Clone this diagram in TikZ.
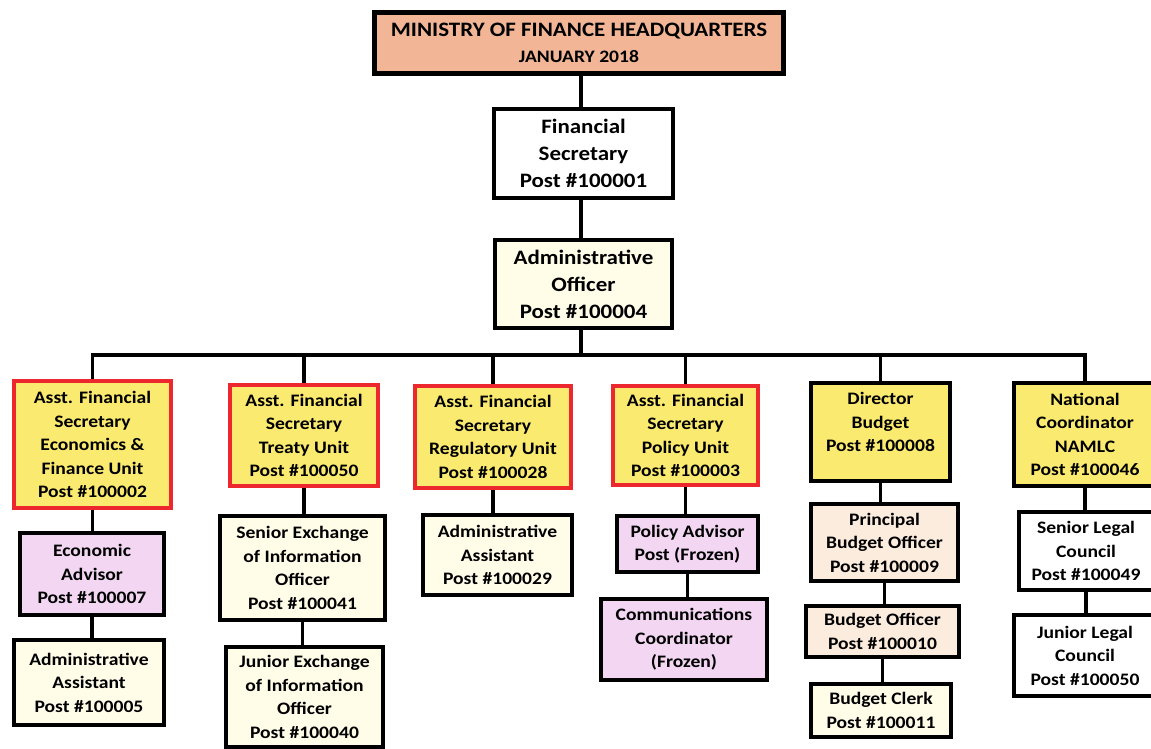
\documentclass[tikz,border=0pt]{standalone}
\usepackage{fontspec}
\newfontfamily\orgfont{Carlito}[FakeStretch=1.12]
\usepackage{tikz}
\usetikzlibrary{positioning, calc, backgrounds}
\usepackage{xcolor}
\definecolor{titlesalmon}{RGB}{242,182,150}
\definecolor{unityellow}{RGB}{251,234,112}
\definecolor{staffcream}{RGB}{255,253,232}
\definecolor{advisorpink}{RGB}{242,214,242}
\definecolor{budgetpeach}{RGB}{252,236,222}
\definecolor{unitred}{RGB}{236,40,46}
\tikzset{
  basebox/.style={
    rectangle, draw=black, line width=4pt, align=center, inner sep=2pt, text=black,
    font=\orgfont\bfseries\fontsize{17.5}{23.5}\selectfont
  },
  titlebox/.style={basebox, fill=titlesalmon, line width=5pt, font=\orgfont\bfseries\fontsize{20.5}{26}\selectfont},
  topbox/.style={basebox, font=\orgfont\bfseries\fontsize{20.5}{27}\selectfont},
  unitbox/.style={basebox, draw=unitred, fill=unityellow},
  headbox/.style={basebox, fill=unityellow},
  staffbox/.style={basebox, fill=staffcream},
  advisorbox/.style={basebox, fill=advisorpink},
  budgetbox/.style={basebox, fill=budgetpeach},
  legalbox/.style={basebox, fill=white},
  link/.style={line width=3.5pt, draw=black, line cap=rect}
}
\begin{document}
\begin{tikzpicture}[x=1pt, y=-1pt]
  \useasboundingbox (0,0) rectangle (1151,749);

  % top of the chart
  \node[titlebox, minimum width=409pt, minimum height=61pt] (title) at (579,43)
        {MINISTRY OF FINANCE HEADQUARTERS\\{\fontsize{17.5}{26}\selectfont JANUARY 2018}};
  \node[topbox, fill=white, minimum width=179pt, minimum height=89pt] (finsec) at (583.5,153.5)
        {Financial\\Secretary\\Post \#100001};
  \node[topbox, fill=staffcream, minimum width=177pt, minimum height=88pt] (adminoff) at (583.5,284)
        {Administrative\\Officer\\Post \#100004};
  \coordinate (bus) at (581,355);

  % units
  \node[unitbox, minimum width=157pt, minimum height=127pt] (econ) at (92.5,444.5)
        {Asst. Financial\\Secretary\\Economics \&\\Finance Unit\\Post \#100002};
  \node[unitbox, minimum width=148pt, minimum height=101pt] (treaty) at (304,435.5)
        {Asst. Financial\\Secretary\\Treaty Unit\\Post \#100050};
  \node[unitbox, minimum width=156pt, minimum height=102pt] (regul) at (493,437)
        {Asst. Financial\\Secretary\\Regulatory Unit\\Post \#100028};
  \node[unitbox, minimum width=145pt, minimum height=99pt] (policy) at (685.5,435.5)
        {Asst. Financial\\Secretary\\Policy Unit\\Post \#100003};
  \node[headbox, minimum width=139pt, minimum height=98pt, text depth=20pt] (dirbudget) at (880.5,432)
        {Director\\Budget\\Post \#100008};
  \node[headbox, minimum width=142pt, minimum height=103pt] (natcoord) at (1085,434.5)
        {National\\Coordinator\\NAMLC\\Post \#100046};

  % staff under the units
  \node[advisorbox, minimum width=144pt, minimum height=82pt] (econadv) at (92,574)
        {Economic\\Advisor\\Post \#100007};
  \node[staffbox, minimum width=150pt, minimum height=85pt] (econasst) at (89,682.5)
        {Administrative\\Assistant\\Post \#100005};
  \node[staffbox, minimum width=165pt, minimum height=104pt] (senexch) at (302.5,568)
        {Senior Exchange\\of Information\\Officer\\Post \#100041};
  \node[staffbox, minimum width=157pt, minimum height=100pt] (junexch) at (304.5,697)
        {Junior Exchange\\of Information\\Officer\\Post \#100040};
  \node[staffbox, minimum width=149pt, minimum height=80pt] (regasst) at (497.5,555)
        {Administrative\\Assistant\\Post \#100029};
  \node[advisorbox, minimum width=141pt, minimum height=56pt] (poladv) at (687.5,544)
        {Policy Advisor\\Post (Frozen)};
  \node[advisorbox, minimum width=166pt, minimum height=81pt] (comms) at (684,639.5)
        {Communications\\Coordinator\\(Frozen)};
  \node[budgetbox, minimum width=147pt, minimum height=77pt] (prinbudget) at (884.5,542.5)
        {Principal\\Budget Officer\\Post \#100009};
  \node[budgetbox, minimum width=153pt, minimum height=51pt] (budgetoff) at (882.5,631.5)
        {Budget Officer\\Post \#100010};
  \node[staffbox, minimum width=140pt, minimum height=53pt] (budgetclerk) at (881,710.5)
        {Budget Clerk\\Post \#100011};
  \node[legalbox, minimum width=134pt, minimum height=78pt] (senlegal) at (1086,551)
        {Senior Legal\\Council\\Post \#100049};
  \node[legalbox, minimum width=142pt, minimum height=81pt] (junlegal) at (1085,655.5)
        {Junior Legal\\Council\\Post \#100050};

  % lines
  \begin{scope}[on background layer]
    \fill[white] (0,0) rectangle (1151,749);
    \draw[link] (bus |- title.south) -- (bus |- finsec.north);
    \draw[link] (bus |- finsec.south) -- (bus |- adminoff.north);
    \draw[link] (bus |- adminoff.south) -- (bus);
    \draw[link] (bus -| econ.north) -- (bus -| natcoord.north);
    \foreach \u in {econ,treaty,regul,policy,dirbudget,natcoord}
      \draw[link] (bus -| \u.north) -- (\u.north);
    \foreach \a/\b in {econ/econadv, econadv/econasst, treaty/senexch, senexch/junexch,
                       regul/regasst, policy/poladv, poladv/comms, dirbudget/prinbudget,
                       prinbudget/budgetoff, budgetoff/budgetclerk, natcoord/senlegal,
                       senlegal/junlegal}
      \draw[link] (\a.south) -- (\a.south |- \b.north);
  \end{scope}
\end{tikzpicture}
\end{document}
